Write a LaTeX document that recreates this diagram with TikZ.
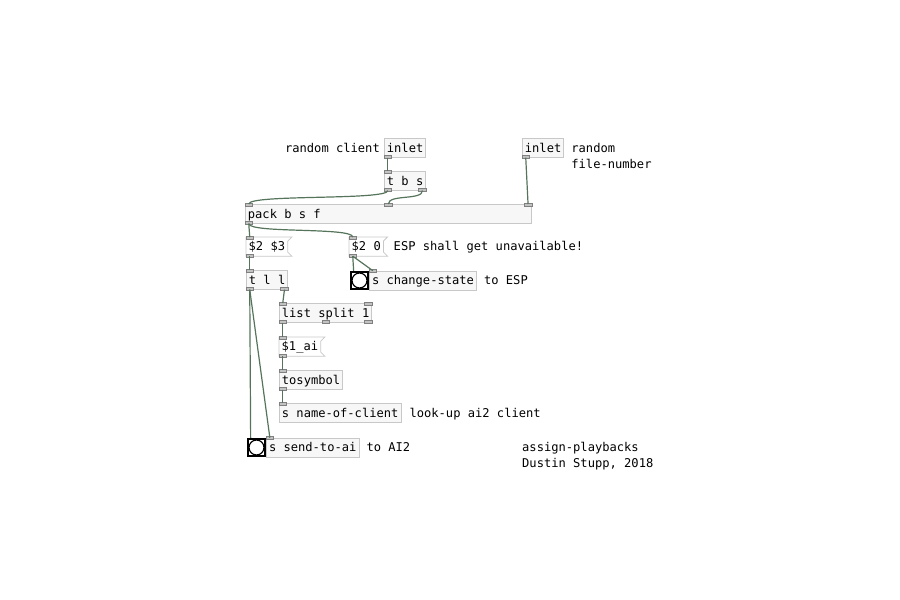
\documentclass[tikz,border=0pt]{standalone}
\usepackage{fontspec}
\newfontfamily\pdmono{DejaVu Sans Mono}
\newcommand{\pdtext}{\pdmono\fontsize{12.1}{16}\selectfont}
\usepackage{xcolor}
\definecolor{pdline}{HTML}{C8C8C8}
\definecolor{pdfill}{HTML}{F6F7F6}
\definecolor{pdtab}{HTML}{C2C2C2}
\definecolor{pdcord}{HTML}{56745C}
\usepackage{tikz}
\usetikzlibrary{positioning,calc}
\tikzstyle{obj} = [rectangle, draw=pdline, fill=pdfill, line width=0.8pt,
anchor=north west, inner xsep=2.5pt, inner ysep=3.6pt, text height=10pt, text depth=1.6pt]
\tikzstyle{msg} = [rectangle, anchor=north west, inner xsep=2.5pt, inner ysep=3.6pt,
text height=10pt, text depth=1.6pt]
\tikzstyle{comment} = [inner xsep=0pt, inner ysep=3.6pt, text height=10pt, text depth=1.6pt]
\tikzstyle{bng} = [rectangle, draw=black, fill=white, line width=1.8pt,
minimum size=17.4pt, anchor=north west, inner sep=0pt]
\tikzstyle{iotab} = [draw=gray, fill=pdtab, line width=0.5pt]
\tikzstyle{cord} = [draw=pdcord, line width=1.2pt]

% inlets and outlets: node name, list of positions along the edge
\newcommand{\pdin}[2]{\foreach \f [count=\i from 0] in {#2} {
  \coordinate (#1-i\i) at ($(#1.north west)!\f!(#1.north east)+({3.75-7.5*\f},0)$);
  \draw[iotab] ($(#1-i\i)+(-3.75,-1)$) rectangle ($(#1-i\i)+(3.75,2)$);}}
\newcommand{\pdout}[2]{\foreach \f [count=\i from 0] in {#2} {
  \coordinate (#1-o\i) at ($(#1.south west)!\f!(#1.south east)+({3.75-7.5*\f},0)$);
  \draw[iotab] ($(#1-o\i)+(-3.75,-2)$) rectangle ($(#1-o\i)+(3.75,1)$);}}
% flag outline of a message box
\newcommand{\pdmsg}[1]{\draw[draw=pdline, line width=0.8pt] (#1.north west) -- ($(#1.north east)+(4,0)$)
  -- ($(#1.north east)+(0,4)$) -- ($(#1.south east)+(0,-4)$) -- ($(#1.south east)+(4,0)$)
  -- (#1.south west) -- cycle;}

\begin{document}
\begin{tikzpicture}[x=1pt, y=-1pt, font=\pdtext]
    \useasboundingbox (0,0) rectangle (900,600);

    % Objects
    \node [obj] (inL) at (384,138) {inlet};
    \node [obj] (inR) at (522,138) {inlet};
    \node [obj] (tbs) at (384,171) {t b s};
    \node [obj] (pack) at (245,204) {\makebox[281pt][l]{pack b s f}};
    \node [msg] (msgA) at (246,237) {\$2 \$3};
    \node [msg] (msgB) at (349,237) {\$2 0};
    \node [obj] (tll) at (246,270) {t l l};
    \node [bng] (bangESP) at (349.9,270.9) {};
    \node [obj, right=0pt of bangESP] (sendESP) {s change-state};
    \node [obj] (split) at (279,303) {list split 1};
    \node [msg] (msgC) at (279,337) {\$1\_ai};
    \node [obj] (tosym) at (279,370) {tosymbol};
    \node [obj] (sendName) at (279,403) {s name-of-client};
    \node [bng] (bangAI) at (246.9,437.9) {};
    \node [obj, right=0pt of bangAI] (sendAI) {s send-to-ai};

    \pdmsg{msgA}
    \pdmsg{msgB}
    \pdmsg{msgC}
    \draw[line width=1.2pt] (bangESP.center) circle (7.5pt);
    \draw[line width=1.2pt] (bangAI.center) circle (7.5pt);
    \coordinate (bangESP-i0) at ($(bangESP.north west)+(3.75,0)$);
    \coordinate (bangAI-i0) at ($(bangAI.north west)+(3.75,0)$);

    % Comments
    \node [comment, left=4pt of inL] (cmClient) {random client};
    \node [anchor=north west, inner sep=0pt, align=left] (cmFile) at ($(inR.north east)+(7,5)$) {random\\file-number};
    \node [comment, right=10pt of msgB] (cmUnavail) {ESP shall get unavailable!};
    \node [comment, right=7pt of sendESP] (cmESP) {to ESP};
    \node [comment, right=8pt of sendName] (cmLookup) {look-up ai2 client};
    \node [comment, right=7pt of sendAI] (cmAI) {to AI2};
    \node [anchor=north west, inner sep=0pt, align=left] (cmTitle) at (522,442) {assign-playbacks\\Dustin Stupp, 2018};

    % Inlets and outlets
    \pdout{inL}{0}
    \pdout{inR}{0}
    \pdin{tbs}{0} \pdout{tbs}{0,1}
    \pdin{pack}{0,0.5,1} \pdout{pack}{0}
    \pdin{msgA}{0} \pdout{msgA}{0}
    \pdin{msgB}{0} \pdout{msgB}{0}
    \pdin{tll}{0} \pdout{tll}{0,1}
    \pdin{sendESP}{0}
    \pdin{split}{0,1} \pdout{split}{0,0.5,1}
    \pdin{msgC}{0} \pdout{msgC}{0}
    \pdin{tosym}{0} \pdout{tosym}{0}
    \pdin{sendName}{0}
    \pdin{sendAI}{0}

    % Cords
    \draw[cord] (inL-o0) -- (tbs-i0);
    \draw[cord] (tbs-o0) .. controls +(0,10) and +(0,-10) .. (pack-i0);
    \draw[cord] (tbs-o1) .. controls +(0,10) and +(0,-10) .. (pack-i1);
    \draw[cord] (inR-o0) -- (pack-i2);
    \draw[cord] (pack-o0) -- (msgA-i0);
    \draw[cord] (pack-o0) .. controls +(0,10) and +(0,-10) .. (msgB-i0);
    \draw[cord] (msgA-o0) -- (tll-i0);
    \draw[cord] (msgB-o0) -- (bangESP-i0);
    \draw[cord] (msgB-o0) -- (sendESP-i0);
    \draw[cord] (tll-o0) -- (bangAI-i0);
    \draw[cord] (tll-o0) -- (sendAI-i0);
    \draw[cord] (tll-o1) -- (split-i0);
    \draw[cord] (split-o0) -- (msgC-i0);
    \draw[cord] (msgC-o0) -- (tosym-i0);
    \draw[cord] (tosym-o0) -- (sendName-i0);

\end{tikzpicture}
\end{document}
